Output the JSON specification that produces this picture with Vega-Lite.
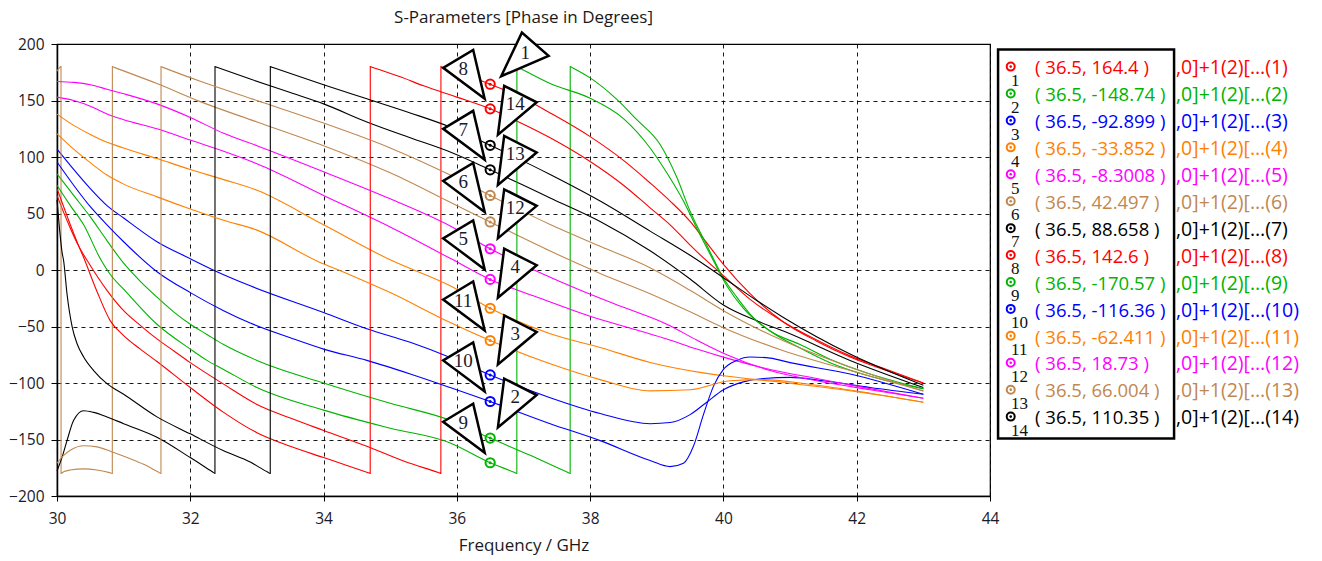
{
"$schema":"https://vega.github.io/schema/vega-lite/v6.json",
"width":933,"height":452,
"autosize":{"type":"none"},
"padding":{"left":57,"top":44,"right":332,"bottom":65},
"background":"white",
"title":{"text":"S-Parameters [Phase in Degrees]","frame":"group","anchor":"middle","offset":1,"font":"Open Sans","fontSize":17,"fontWeight":"normal","color":"#1a1a1a"},
"config":{
 "view":{"stroke":"black","strokeWidth":1.2},
 "axis":{"grid":true,"gridDash":[4,4],"gridColor":"black","gridOpacity":0.9,"gridWidth":1,"domainColor":"black","domainWidth":1.5,"tickColor":"black","labelFont":"Open Sans","labelFontSize":15.5,"labelColor":"#1a1a2a","titleFont":"Open Sans","titleFontSize":17,"titleFontWeight":"normal","titleColor":"#1a1a1a","labelFlush":false},
 "axisX":{"tickSize":5,"labelPadding":10,"titlePadding":11},
 "axisY":{"tickSize":6,"labelPadding":7}
},
"datasets":{
"markers":[
{"n":1,"f":36.5,"v":164.4,"lbl":"( 36.5, 164.4 )","tail":",0]+1(2)[…(1)"},
{"n":2,"f":36.5,"v":-148.74,"lbl":"( 36.5, -148.74 )","tail":",0]+1(2)[…(2)"},
{"n":3,"f":36.5,"v":-92.899,"lbl":"( 36.5, -92.899 )","tail":",0]+1(2)[…(3)"},
{"n":4,"f":36.5,"v":-33.852,"lbl":"( 36.5, -33.852 )","tail":",0]+1(2)[…(4)"},
{"n":5,"f":36.5,"v":-8.3008,"lbl":"( 36.5, -8.3008 )","tail":",0]+1(2)[…(5)"},
{"n":6,"f":36.5,"v":42.497,"lbl":"( 36.5, 42.497 )","tail":",0]+1(2)[…(6)"},
{"n":7,"f":36.5,"v":88.658,"lbl":"( 36.5, 88.658 )","tail":",0]+1(2)[…(7)"},
{"n":8,"f":36.5,"v":142.6,"lbl":"( 36.5, 142.6 )","tail":",0]+1(2)[…(8)"},
{"n":9,"f":36.5,"v":-170.57,"lbl":"( 36.5, -170.57 )","tail":",0]+1(2)[…(9)"},
{"n":10,"f":36.5,"v":-116.36,"lbl":"( 36.5, -116.36 )","tail":",0]+1(2)[…(10)"},
{"n":11,"f":36.5,"v":-62.411,"lbl":"( 36.5, -62.411 )","tail":",0]+1(2)[…(11)"},
{"n":12,"f":36.5,"v":18.73,"lbl":"( 36.5, 18.73 )","tail":",0]+1(2)[…(12)"},
{"n":13,"f":36.5,"v":66.004,"lbl":"( 36.5, 66.004 )","tail":",0]+1(2)[…(13)"},
{"n":14,"f":36.5,"v":110.35,"lbl":"( 36.5, 110.35 )","tail":",0]+1(2)[…(14)"}
],
"curves":[
{"s":1,"f":30,"v":66},{"s":1,"f":30.1,"v":51},{"s":1,"f":30.2,"v":37},{"s":1,"f":30.3,"v":24},{"s":1,"f":30.5,"v":4},{"s":1,"f":30.75,"v":-18},{"s":1,"f":31,"v":-36},{"s":1,"f":31.25,"v":-49},{"s":1,"f":31.5,"v":-61},{"s":1,"f":31.75,"v":-71.5},{"s":1,"f":32,"v":-82},{"s":1,"f":32.5,"v":-101},{"s":1,"f":33,"v":-119},{"s":1,"f":33.5,"v":-131},{"s":1,"f":34,"v":-142},{"s":1,"f":34.65,"v":-156},{"s":1,"f":35.2,"v":-169},{"s":1,"f":35.72,"v":-179.2},{"s":1,"f":35.76,"v":-180},{"s":1,"f":35.761,"v":180},{"s":1,"f":35.8,"v":179.2},{"s":1,"f":36,"v":175},{"s":1,"f":36.5,"v":164.4},{"s":1,"f":37,"v":152},{"s":1,"f":37.4,"v":139},{"s":1,"f":38,"v":118},{"s":1,"f":38.5,"v":97},{"s":1,"f":38.9,"v":77},{"s":1,"f":39.2,"v":61},{"s":1,"f":39.5,"v":43},{"s":1,"f":39.75,"v":24},{"s":1,"f":40,"v":5},{"s":1,"f":40.4,"v":-21},{"s":1,"f":40.9,"v":-46},{"s":1,"f":41.4,"v":-63},{"s":1,"f":41.9,"v":-77},{"s":1,"f":42.4,"v":-88},{"s":1,"f":43,"v":-100},
{"s":2,"f":30,"v":85},{"s":2,"f":30.25,"v":66},{"s":2,"f":30.5,"v":47},{"s":2,"f":30.75,"v":26},{"s":2,"f":31,"v":6},{"s":2,"f":31.25,"v":-10},{"s":2,"f":31.5,"v":-24},{"s":2,"f":31.75,"v":-37},{"s":2,"f":32,"v":-48},{"s":2,"f":32.25,"v":-57},{"s":2,"f":32.5,"v":-66},{"s":2,"f":33,"v":-80},{"s":2,"f":34,"v":-100},{"s":2,"f":35,"v":-118},{"s":2,"f":35.9,"v":-133},{"s":2,"f":36.5,"v":-148.74},{"s":2,"f":37.1,"v":-164},{"s":2,"f":37.66,"v":-179},{"s":2,"f":37.7,"v":-180},{"s":2,"f":37.701,"v":180},{"s":2,"f":37.74,"v":178.8},{"s":2,"f":38,"v":170},{"s":2,"f":38.4,"v":151},{"s":2,"f":38.7,"v":133},{"s":2,"f":39.05,"v":111},{"s":2,"f":39.3,"v":82},{"s":2,"f":39.5,"v":52},{"s":2,"f":39.75,"v":22},{"s":2,"f":40,"v":-7},{"s":2,"f":40.2,"v":-24},{"s":2,"f":40.4,"v":-39},{"s":2,"f":40.75,"v":-56},{"s":2,"f":41.15,"v":-69},{"s":2,"f":41.6,"v":-82},{"s":2,"f":42.2,"v":-94},{"s":2,"f":43,"v":-105},
{"s":3,"f":30,"v":107},{"s":3,"f":30.25,"v":89},{"s":3,"f":30.5,"v":72},{"s":3,"f":30.75,"v":57},{"s":3,"f":31,"v":46},{"s":3,"f":31.5,"v":25},{"s":3,"f":32,"v":10},{"s":3,"f":32.4,"v":-1.5},{"s":3,"f":32.9,"v":-14},{"s":3,"f":34,"v":-37.6},{"s":3,"f":34.65,"v":-52},{"s":3,"f":35.3,"v":-64},{"s":3,"f":35.9,"v":-77.4},{"s":3,"f":36.5,"v":-92.9},{"s":3,"f":37.4,"v":-113},{"s":3,"f":38.15,"v":-127},{"s":3,"f":38.9,"v":-136},{"s":3,"f":39.2,"v":-135},{"s":3,"f":39.5,"v":-128},{"s":3,"f":39.75,"v":-117},{"s":3,"f":40,"v":-106},{"s":3,"f":40.3,"v":-99},{"s":3,"f":40.6,"v":-96},{"s":3,"f":41,"v":-95},{"s":3,"f":41.5,"v":-98},{"s":3,"f":42.2,"v":-104},{"s":3,"f":43,"v":-110},
{"s":4,"f":30,"v":138},{"s":4,"f":30.25,"v":128},{"s":4,"f":30.5,"v":120},{"s":4,"f":30.75,"v":113},{"s":4,"f":31,"v":108},{"s":4,"f":31.5,"v":98.6},{"s":4,"f":32,"v":89},{"s":4,"f":32.5,"v":80},{"s":4,"f":33,"v":70.6},{"s":4,"f":34,"v":40},{"s":4,"f":35,"v":9},{"s":4,"f":35.9,"v":-14},{"s":4,"f":36.5,"v":-33.85},{"s":4,"f":37.4,"v":-56.5},{"s":4,"f":38.15,"v":-68.6},{"s":4,"f":38.9,"v":-81.8},{"s":4,"f":39.65,"v":-90.6},{"s":4,"f":40,"v":-93.6},{"s":4,"f":40.9,"v":-99.5},{"s":4,"f":41.9,"v":-106.8},{"s":4,"f":43,"v":-117},
{"s":5,"f":30,"v":153},{"s":5,"f":30.25,"v":150},{"s":5,"f":30.5,"v":145},{"s":5,"f":30.75,"v":138},{"s":5,"f":31,"v":133},{"s":5,"f":31.5,"v":125},{"s":5,"f":32,"v":115},{"s":5,"f":32.5,"v":105},{"s":5,"f":33,"v":94},{"s":5,"f":34,"v":66},{"s":5,"f":35,"v":38},{"s":5,"f":35.9,"v":10.3},{"s":5,"f":36.5,"v":-8.3},{"s":5,"f":37.25,"v":-25},{"s":5,"f":38,"v":-41},{"s":5,"f":38.75,"v":-54},{"s":5,"f":39.15,"v":-61},{"s":5,"f":39.6,"v":-70},{"s":5,"f":40.05,"v":-78},{"s":5,"f":40.7,"v":-88},{"s":5,"f":41.4,"v":-96},{"s":5,"f":42.2,"v":-105},{"s":5,"f":43,"v":-113.5},
{"s":6,"f":30,"v":176},{"s":6,"f":30.03,"v":178.4},{"s":6,"f":30.06,"v":180},{"s":6,"f":30.061,"v":-180},{"s":6,"f":30.1,"v":-178.6},{"s":6,"f":30.2,"v":-177},{"s":6,"f":30.4,"v":-176},{"s":6,"f":30.6,"v":-177},{"s":6,"f":30.79,"v":-179.3},{"s":6,"f":30.83,"v":-180},{"s":6,"f":30.831,"v":180},{"s":6,"f":30.87,"v":179.1},{"s":6,"f":31.5,"v":165},{"s":6,"f":32.15,"v":149},{"s":6,"f":33,"v":131},{"s":6,"f":34,"v":110},{"s":6,"f":35,"v":86},{"s":6,"f":35.9,"v":60},{"s":6,"f":36.5,"v":42.5},{"s":6,"f":37.4,"v":16.8},{"s":6,"f":38.15,"v":-3},{"s":6,"f":38.9,"v":-21},{"s":6,"f":39.5,"v":-37},{"s":6,"f":40,"v":-51},{"s":6,"f":40.9,"v":-71.5},{"s":6,"f":41.9,"v":-89},{"s":6,"f":43,"v":-107},
{"s":7,"f":30,"v":-178},{"s":7,"f":30.08,"v":-165},{"s":7,"f":30.15,"v":-151},{"s":7,"f":30.25,"v":-133},{"s":7,"f":30.4,"v":-124.5},{"s":7,"f":30.55,"v":-126},{"s":7,"f":30.75,"v":-130},{"s":7,"f":31,"v":-136},{"s":7,"f":31.5,"v":-148},{"s":7,"f":32,"v":-166},{"s":7,"f":32.33,"v":-178.5},{"s":7,"f":32.37,"v":-180},{"s":7,"f":32.371,"v":180},{"s":7,"f":32.41,"v":179.2},{"s":7,"f":32.9,"v":169},{"s":7,"f":33.5,"v":157},{"s":7,"f":34,"v":147},{"s":7,"f":34.65,"v":131},{"s":7,"f":35.3,"v":117},{"s":7,"f":35.9,"v":104.4},{"s":7,"f":36.5,"v":88.66},{"s":7,"f":37,"v":75},{"s":7,"f":37.4,"v":63.8},{"s":7,"f":38.15,"v":43},{"s":7,"f":38.9,"v":17},{"s":7,"f":39.5,"v":-8},{"s":7,"f":40,"v":-31},{"s":7,"f":40.5,"v":-45},{"s":7,"f":40.9,"v":-54},{"s":7,"f":41.9,"v":-80},{"s":7,"f":43,"v":-104},
{"s":8,"f":30,"v":72},{"s":8,"f":30.1,"v":56},{"s":8,"f":30.2,"v":40},{"s":8,"f":30.3,"v":25},{"s":8,"f":30.4,"v":11},{"s":8,"f":30.6,"v":-19},{"s":8,"f":30.8,"v":-45},{"s":8,"f":31,"v":-58},{"s":8,"f":31.25,"v":-70},{"s":8,"f":31.5,"v":-81},{"s":8,"f":32,"v":-104},{"s":8,"f":32.5,"v":-126},{"s":8,"f":33,"v":-144},{"s":8,"f":33.5,"v":-156},{"s":8,"f":34,"v":-166},{"s":8,"f":34.35,"v":-173},{"s":8,"f":34.66,"v":-179.2},{"s":8,"f":34.7,"v":-180},{"s":8,"f":34.701,"v":180},{"s":8,"f":34.74,"v":179.2},{"s":8,"f":35.15,"v":171},{"s":8,"f":35.5,"v":163},{"s":8,"f":36,"v":153},{"s":8,"f":36.5,"v":142.6},{"s":8,"f":37,"v":129},{"s":8,"f":37.4,"v":117},{"s":8,"f":38,"v":96},{"s":8,"f":38.5,"v":75},{"s":8,"f":38.9,"v":55},{"s":8,"f":39.2,"v":40},{"s":8,"f":39.5,"v":22},{"s":8,"f":39.75,"v":8},{"s":8,"f":40,"v":-5},{"s":8,"f":40.4,"v":-26},{"s":8,"f":40.9,"v":-46},{"s":8,"f":41.4,"v":-62},{"s":8,"f":41.9,"v":-76},{"s":8,"f":42.4,"v":-87},{"s":8,"f":43,"v":-100},
{"s":9,"f":30,"v":75},{"s":9,"f":30.2,"v":57},{"s":9,"f":30.4,"v":40},{"s":9,"f":30.65,"v":10},{"s":9,"f":30.8,"v":-4},{"s":9,"f":31,"v":-17},{"s":9,"f":31.5,"v":-48},{"s":9,"f":32,"v":-70},{"s":9,"f":32.25,"v":-80},{"s":9,"f":32.5,"v":-88},{"s":9,"f":33,"v":-104},{"s":9,"f":34,"v":-124},{"s":9,"f":35,"v":-140},{"s":9,"f":35.9,"v":-153},{"s":9,"f":36.5,"v":-170.57},{"s":9,"f":36.86,"v":-179},{"s":9,"f":36.9,"v":-180},{"s":9,"f":36.901,"v":180},{"s":9,"f":36.94,"v":178.8},{"s":9,"f":37.4,"v":165},{"s":9,"f":38,"v":152},{"s":9,"f":38.5,"v":134},{"s":9,"f":38.9,"v":108},{"s":9,"f":39.15,"v":86},{"s":9,"f":39.4,"v":61},{"s":9,"f":39.6,"v":37},{"s":9,"f":39.8,"v":14},{"s":9,"f":40.05,"v":-14},{"s":9,"f":40.3,"v":-34},{"s":9,"f":40.7,"v":-54},{"s":9,"f":41.15,"v":-66},{"s":9,"f":41.6,"v":-79},{"s":9,"f":42.2,"v":-92},{"s":9,"f":43,"v":-105},
{"s":10,"f":30,"v":95.6},{"s":10,"f":30.25,"v":75},{"s":10,"f":30.5,"v":56},{"s":10,"f":30.75,"v":40},{"s":10,"f":31,"v":25},{"s":10,"f":31.5,"v":-1.5},{"s":10,"f":32,"v":-20},{"s":10,"f":32.5,"v":-36},{"s":10,"f":32.9,"v":-47},{"s":10,"f":33.5,"v":-60},{"s":10,"f":34,"v":-70},{"s":10,"f":34.65,"v":-80},{"s":10,"f":35.3,"v":-92},{"s":10,"f":35.9,"v":-104},{"s":10,"f":36.5,"v":-116.4},{"s":10,"f":37.4,"v":-136},{"s":10,"f":38.15,"v":-151},{"s":10,"f":38.9,"v":-168.6},{"s":10,"f":39.2,"v":-174},{"s":10,"f":39.4,"v":-171},{"s":10,"f":39.55,"v":-156},{"s":10,"f":39.7,"v":-128},{"s":10,"f":39.85,"v":-103},{"s":10,"f":40,"v":-88},{"s":10,"f":40.2,"v":-80},{"s":10,"f":40.4,"v":-77},{"s":10,"f":40.7,"v":-78},{"s":10,"f":41,"v":-82},{"s":10,"f":41.9,"v":-92},{"s":10,"f":43,"v":-110},
{"s":11,"f":30,"v":120.6},{"s":11,"f":30.25,"v":107},{"s":11,"f":30.5,"v":95},{"s":11,"f":30.75,"v":84},{"s":11,"f":31,"v":76},{"s":11,"f":31.5,"v":64.7},{"s":11,"f":32,"v":54},{"s":11,"f":32.5,"v":44},{"s":11,"f":33,"v":35.3},{"s":11,"f":33.9,"v":8},{"s":11,"f":34.4,"v":-4.4},{"s":11,"f":35,"v":-20},{"s":11,"f":35.9,"v":-46.5},{"s":11,"f":36.5,"v":-62.4},{"s":11,"f":37.4,"v":-83},{"s":11,"f":38.15,"v":-97},{"s":11,"f":38.9,"v":-107},{"s":11,"f":39.5,"v":-106},{"s":11,"f":40.1,"v":-98},{"s":11,"f":40.6,"v":-97},{"s":11,"f":41.4,"v":-102},{"s":11,"f":42.2,"v":-109},{"s":11,"f":43,"v":-117},
{"s":12,"f":30,"v":166.8},{"s":12,"f":30.25,"v":166},{"s":12,"f":30.5,"v":164},{"s":12,"f":30.75,"v":160},{"s":12,"f":31,"v":156},{"s":12,"f":31.5,"v":147},{"s":12,"f":32,"v":135},{"s":12,"f":32.5,"v":121},{"s":12,"f":33,"v":110},{"s":12,"f":34,"v":87},{"s":12,"f":35,"v":63},{"s":12,"f":35.9,"v":39},{"s":12,"f":36.5,"v":18.73},{"s":12,"f":37.2,"v":-1},{"s":12,"f":37.9,"v":-19},{"s":12,"f":38.5,"v":-33},{"s":12,"f":39.15,"v":-48},{"s":12,"f":39.6,"v":-62},{"s":12,"f":40.05,"v":-75},{"s":12,"f":40.7,"v":-89},{"s":12,"f":41.4,"v":-98},{"s":12,"f":42.2,"v":-106},{"s":12,"f":43,"v":-113.5},
{"s":13,"f":30,"v":-171},{"s":13,"f":30.1,"v":-164},{"s":13,"f":30.2,"v":-159.5},{"s":13,"f":30.4,"v":-155.5},{"s":13,"f":30.6,"v":-156.5},{"s":13,"f":30.83,"v":-161},{"s":13,"f":31.1,"v":-167},{"s":13,"f":31.3,"v":-172},{"s":13,"f":31.52,"v":-178.8},{"s":13,"f":31.56,"v":-180},{"s":13,"f":31.561,"v":180},{"s":13,"f":31.6,"v":179.1},{"s":13,"f":32.15,"v":167},{"s":13,"f":33,"v":150},{"s":13,"f":34,"v":130},{"s":13,"f":35,"v":108},{"s":13,"f":35.9,"v":84},{"s":13,"f":36.5,"v":66},{"s":13,"f":37.4,"v":40.3},{"s":13,"f":38.15,"v":21},{"s":13,"f":38.9,"v":2},{"s":13,"f":39.5,"v":-18},{"s":13,"f":40,"v":-36},{"s":13,"f":40.9,"v":-62.7},{"s":13,"f":41.9,"v":-86},{"s":13,"f":43,"v":-107},
{"s":14,"f":30,"v":62},{"s":14,"f":30.04,"v":35},{"s":14,"f":30.075,"v":16},{"s":14,"f":30.1,"v":8},{"s":14,"f":30.15,"v":-21},{"s":14,"f":30.23,"v":-51},{"s":14,"f":30.3,"v":-65},{"s":14,"f":30.4,"v":-77},{"s":14,"f":30.55,"v":-89},{"s":14,"f":30.75,"v":-100.6},{"s":14,"f":31,"v":-110},{"s":14,"f":31.5,"v":-130},{"s":14,"f":32,"v":-145},{"s":14,"f":32.5,"v":-160},{"s":14,"f":32.9,"v":-170},{"s":14,"f":33.16,"v":-178.8},{"s":14,"f":33.2,"v":-180},{"s":14,"f":33.201,"v":180},{"s":14,"f":33.24,"v":179.2},{"s":14,"f":34,"v":164},{"s":14,"f":34.65,"v":151.5},{"s":14,"f":35.3,"v":139},{"s":14,"f":35.9,"v":126.5},{"s":14,"f":36.5,"v":110.35},{"s":14,"f":37.4,"v":84.5},{"s":14,"f":38.15,"v":61},{"s":14,"f":38.9,"v":34.4},{"s":14,"f":39.5,"v":13},{"s":14,"f":40,"v":-6.8},{"s":14,"f":40.5,"v":-27},{"s":14,"f":40.9,"v":-42},{"s":14,"f":41.9,"v":-74.4},{"s":14,"f":43,"v":-102}
]
},
"layer":[
{"data":{"name":"curves"},"mark":{"type":"line","strokeWidth":1.1,"interpolate":"monotone"},
 "encoding":{
  "x":{"field":"f","type":"quantitative","title":"Frequency / GHz","scale":{"domain":[30,44],"nice":false,"zero":false},"axis":{"values":[30,32,34,36,38,40,42,44],"format":"d"}},
  "y":{"field":"v","type":"quantitative","title":null,"scale":{"domain":[-200,200],"nice":false,"zero":false},"axis":{"values":[-200,-150,-100,-50,0,50,100,150,200],"format":"d"}},
  "color":{"field":"s","type":"nominal","legend":null,"scale":{"domain":[1,2,3,4,5,6,7,8,9,10,11,12,13,14],"range":["#ff0000","#00b400","#0000ff","#ff8000","#ff00ff","#c08850","#000000","#ff0000","#00b400","#0000ff","#ff8000","#ff00ff","#c08850","#000000"]}}
 }},
{"data":{"name":"markers"},"mark":{"type":"point","shape":"circle","size":85,"strokeWidth":2,"filled":false,"opacity":1},
 "encoding":{"x":{"field":"f","type":"quantitative","title":"Frequency / GHz"},"y":{"field":"v","type":"quantitative","title":null},"color":{"field":"n","type":"nominal","legend":null}}},
{"data":{"name":"markers"},"mark":{"type":"point","shape":"circle","size":9,"filled":true,"opacity":1},
 "encoding":{"x":{"field":"f","type":"quantitative","title":"Frequency / GHz"},"y":{"field":"v","type":"quantitative","title":null},"color":{"field":"n","type":"nominal","legend":null}}},
{"data":{"name":"markers"},"transform":[{"filter":{"field":"n","oneOf":[2,3,4,12,13,14]}}],
 "mark":{"type":"point","shape":"M7.7,-10.5L14,-59.5L46.5,-43Z","size":4,"filled":true,"fill":"white","stroke":"black","strokeWidth":2.5,"strokeJoin":"miter","opacity":1},
 "encoding":{"x":{"field":"f","type":"quantitative","title":"Frequency / GHz"},"y":{"field":"v","type":"quantitative","title":null}}},
{"data":{"name":"markers"},"transform":[{"filter":{"field":"n","oneOf":[5,6,7,8,9,10,11]}}],
 "mark":{"type":"point","shape":"M-5.5,-10L-47,-41L-17,-59Z","size":4,"filled":true,"fill":"white","stroke":"black","strokeWidth":2.5,"strokeJoin":"miter","opacity":1},
 "encoding":{"x":{"field":"f","type":"quantitative","title":"Frequency / GHz"},"y":{"field":"v","type":"quantitative","title":null}}},
{"data":{"name":"markers"},"transform":[{"filter":{"field":"n","equal":1}}],
 "mark":{"type":"point","shape":"M11,-8L31.7,-51.6L58.4,-28.3Z","size":4,"filled":true,"fill":"white","stroke":"black","strokeWidth":2.5,"strokeJoin":"miter","opacity":1},
 "encoding":{"x":{"field":"f","type":"quantitative","title":"Frequency / GHz"},"y":{"field":"v","type":"quantitative","title":null}}},
{"data":{"name":"markers"},"transform":[{"filter":{"field":"n","oneOf":[2,3,4,12,13,14]}}],
 "mark":{"type":"text","dx":25,"dy":-41,"align":"center","baseline":"middle","font":"Liberation Serif","fontSize":19,"color":"#1a1a2e"},
 "encoding":{"x":{"field":"f","type":"quantitative","title":"Frequency / GHz"},"y":{"field":"v","type":"quantitative","title":null},"text":{"field":"n"}}},
{"data":{"name":"markers"},"transform":[{"filter":{"field":"n","oneOf":[5,6,7,8,9,10,11]}}],
 "mark":{"type":"text","dx":-27,"dy":-40,"align":"center","baseline":"middle","font":"Liberation Serif","fontSize":19,"color":"#1a1a2e"},
 "encoding":{"x":{"field":"f","type":"quantitative","title":"Frequency / GHz"},"y":{"field":"v","type":"quantitative","title":null},"text":{"field":"n"}}},
{"data":{"name":"markers"},"transform":[{"filter":{"field":"n","equal":1}}],
 "mark":{"type":"text","dx":35,"dy":-31,"align":"center","baseline":"middle","font":"Liberation Serif","fontSize":19,"color":"#1a1a2e"},
 "encoding":{"x":{"field":"f","type":"quantitative","title":"Frequency / GHz"},"y":{"field":"v","type":"quantitative","title":null},"text":{"field":"n"}}},
{"data":{"name":"markers"},"mark":{"type":"text","align":"left","baseline":"middle","font":"Open Sans","fontSize":19.5},
 "encoding":{"x":{"datum":46.792,"type":"quantitative","title":"Frequency / GHz"},"y":{"datum":178.5,"type":"quantitative","title":null},"yOffset":{"field":"n","type":"quantitative","scale":{"domain":[1,14],"range":[0,350]}},"text":{"field":"tail"},"color":{"field":"n","type":"nominal","legend":null}}},
{"data":{"name":"markers"},"transform":[{"filter":{"field":"n","equal":1}}],
 "mark":{"type":"rect","fill":"white","stroke":"black","strokeWidth":2.5},
 "encoding":{"x":{"datum":44.121,"type":"quantitative","title":"Frequency / GHz"},"x2":{"datum":46.762},"y":{"datum":195.1,"type":"quantitative","title":null},"y2":{"datum":-149.2}}},
{"data":{"name":"markers"},"mark":{"type":"point","shape":"circle","size":64,"strokeWidth":2,"filled":false,"opacity":1},
 "encoding":{"x":{"datum":44.311,"type":"quantitative","title":"Frequency / GHz"},"y":{"datum":180,"type":"quantitative","title":null},"yOffset":{"field":"n","type":"quantitative","scale":{"domain":[1,14],"range":[0,350]}},"color":{"field":"n","type":"nominal","legend":null}}},
{"data":{"name":"markers"},"mark":{"type":"point","shape":"circle","size":7,"filled":true,"opacity":1},
 "encoding":{"x":{"datum":44.311,"type":"quantitative","title":"Frequency / GHz"},"y":{"datum":180,"type":"quantitative","title":null},"yOffset":{"field":"n","type":"quantitative","scale":{"domain":[1,14],"range":[0,350]}},"color":{"field":"n","type":"nominal","legend":null}}},
{"data":{"name":"markers"},"mark":{"type":"text","align":"left","baseline":"middle","font":"Liberation Serif","fontSize":17,"color":"#111111"},
 "encoding":{"x":{"datum":44.316,"type":"quantitative","title":"Frequency / GHz"},"y":{"datum":167.4,"type":"quantitative","title":null},"yOffset":{"field":"n","type":"quantitative","scale":{"domain":[1,14],"range":[0,350]}},"text":{"field":"n"}}},
{"data":{"name":"markers"},"mark":{"type":"text","align":"left","baseline":"middle","font":"Open Sans","fontSize":18.5},
 "encoding":{"x":{"datum":44.676,"type":"quantitative","title":"Frequency / GHz"},"y":{"datum":178.5,"type":"quantitative","title":null},"yOffset":{"field":"n","type":"quantitative","scale":{"domain":[1,14],"range":[0,350]}},"text":{"field":"lbl"},"color":{"field":"n","type":"nominal","legend":null}}}
]
}
